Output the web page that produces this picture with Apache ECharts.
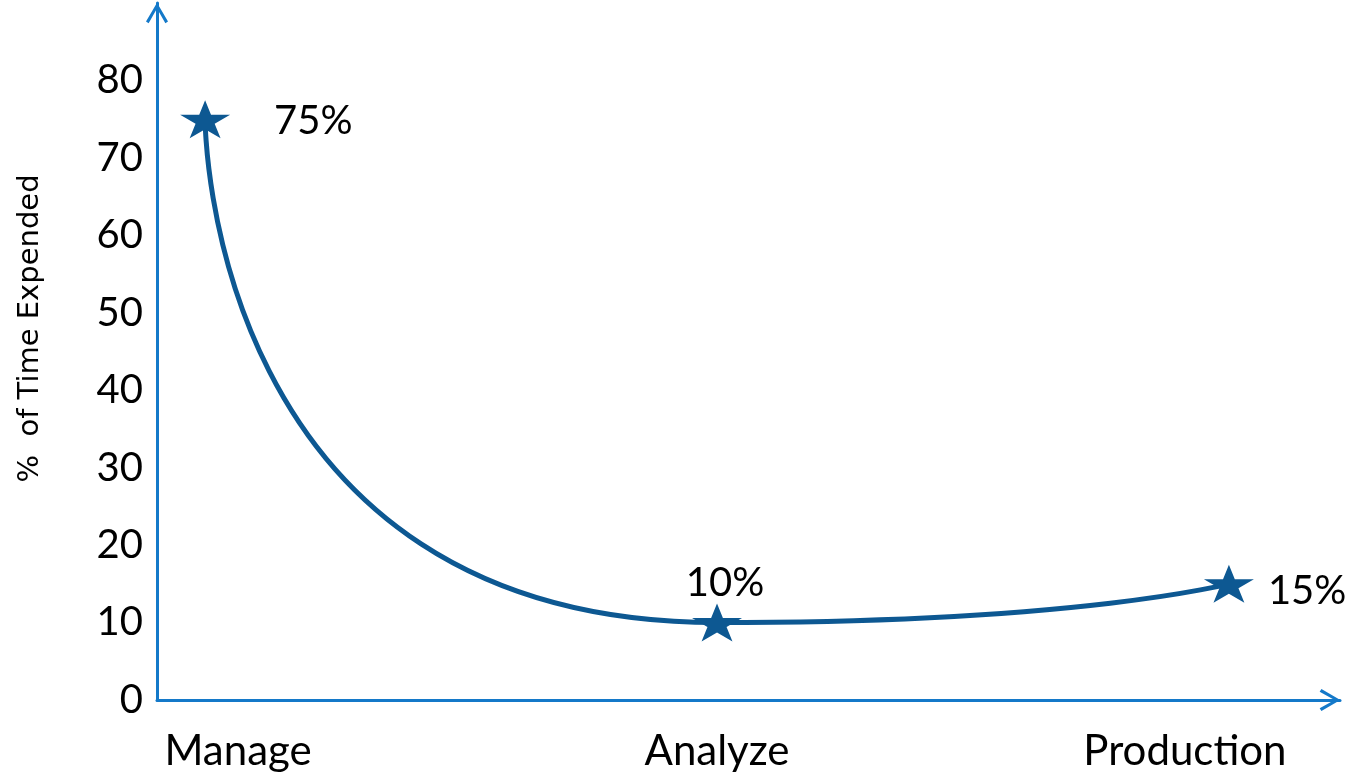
<!DOCTYPE html>
<html>
<head>
<meta charset="utf-8">
<script src="https://cdn.jsdelivr.net/npm/echarts@6/dist/echarts.min.js"></script>
<style>
  html, body { margin: 0; padding: 0; background: #fff; }
  #chart { width: 1355px; height: 778px; }
</style>
</head>
<body>
<div id="chart"></div>
<script>
// Stage names along the workflow and the share of time spent in each
const stages = ['Manage', 'Analyze', 'Production'];
const stagePos = [0, 1, 2];
const timeShare = [75, 10, 15];
const yTicks = [0, 10, 20, 30, 40, 50, 60, 70, 80];

const lineColor = '#0d5892';
const axisColor = '#1479c9';
const textFont = 'Lato';

// open chevron arrow head (drawn pointing up, rotated by the axis)
const chevron = 'path://M50,0 L100,86 L88,94 L50,26 L12,94 L0,86 Z';
// five-pointed star marker
const star = 'path://M50,0 L61.8,36.3 L100,36.3 L69.1,58.8 L80.9,95.1 L50,72.6 L19.1,95.1 L30.9,58.8 L0,36.3 L38.2,36.3 Z';

const labelPlacement = [
  { position: 'right', distance: 44, offset: [0, 2] },
  { position: 'top', distance: 0, offset: [8, 0] },
  { position: 'right', distance: 14, offset: [0, 7] }
];

const chart = echarts.init(document.getElementById('chart'));
chart.setOption({
  animation: false,
  grid: { left: 157, right: 15, top: 3, bottom: 78, containLabel: false },
  xAxis: {
    type: 'value',
    min: -0.094,
    max: 2.217,
    splitLine: { show: false },
    axisTick: { show: false },
    axisLine: {
      show: true,
      onZero: false,
      lineStyle: { color: axisColor, width: 3 },
      symbol: ['none', chevron],
      symbolSize: [22, 22],
      symbolOffset: [0, -10]
    },
    axisLabel: {
      customValues: stagePos,
      margin: 30,
      color: '#000',
      fontFamily: textFont,
      fontSize: 42,
      formatter: function (v) {
        const name = stages[Math.round(v)];
        if (name === 'Manage') return '{m|' + name + '}';
        if (name === 'Production') return '{p|' + name + '}';
        return name;
      },
      rich: {
        m: { fontFamily: textFont, fontSize: 42, color: '#000', padding: [0, 0, 0, 66] },
        p: { fontFamily: textFont, fontSize: 42, color: '#000', padding: [0, 88, 0, 0] }
      }
    }
  },
  yAxis: {
    type: 'value',
    min: 0,
    max: 90,
    interval: 10,
    splitLine: { show: false },
    axisTick: { show: false },
    axisLine: {
      show: true,
      onZero: false,
      lineStyle: { color: axisColor, width: 3 },
      symbol: ['none', chevron],
      symbolSize: [22, 22],
      symbolOffset: [0, -10]
    },
    axisLabel: {
      margin: 14,
      color: '#000',
      fontFamily: textFont,
      fontSize: 40,
      formatter: function (v) { return yTicks.indexOf(v) >= 0 ? String(v) : ''; }
    },
    name: '%  of Time Expended',
    nameLocation: 'middle',
    nameRotate: 90,
    nameGap: 112,
    nameTextStyle: {
      color: '#000',
      fontFamily: 'DejaVu Sans',
      fontSize: 29,
      padding: [0, 0, 0, 46]
    }
  },
  series: [{
    type: 'line',
    smooth: 0.88,
    data: timeShare.map(function (v, i) {
      return {
        value: [stagePos[i], v],
        label: labelPlacement[i]
      };
    }),
    lineStyle: { color: lineColor, width: 5 },
    symbol: star,
    symbolSize: [50, 38],
    itemStyle: { color: lineColor },
    label: {
      show: true,
      color: '#000',
      fontFamily: textFont,
      fontSize: 40,
      formatter: function (p) { return p.value[1] + '%'; }
    },
    z: 3
  }]
});
</script>
</body>
</html>
